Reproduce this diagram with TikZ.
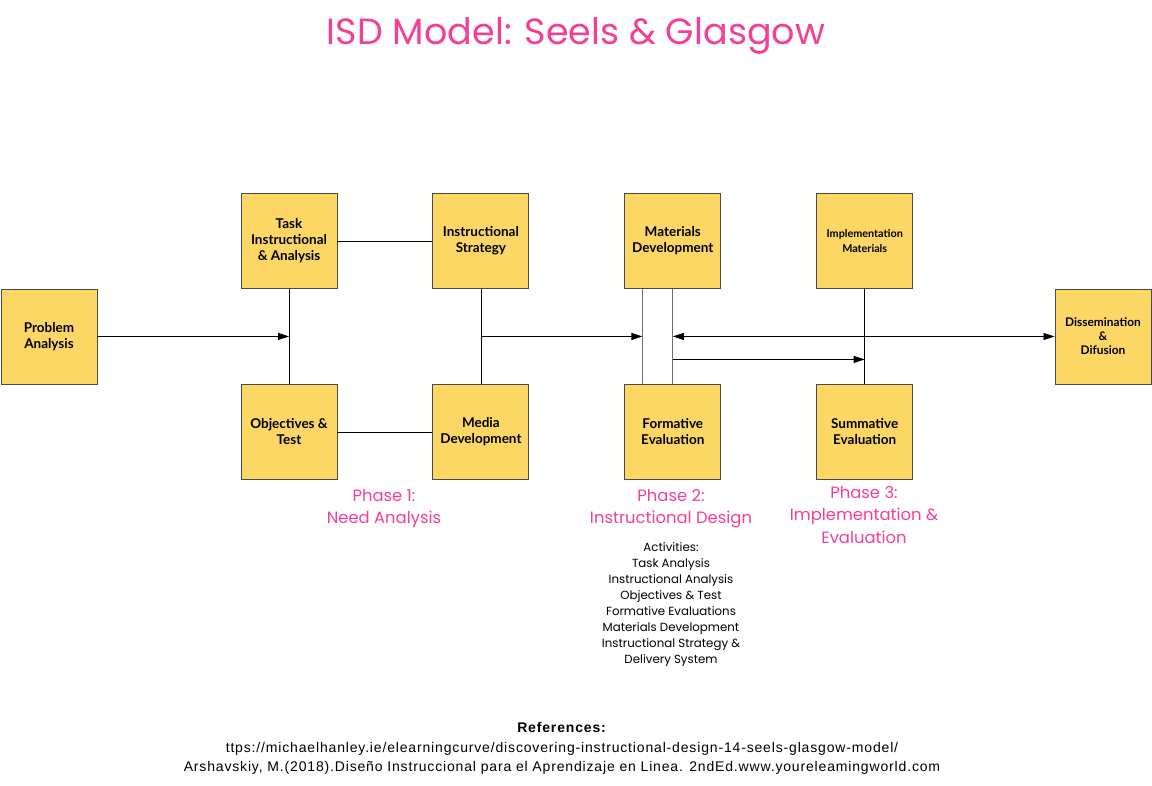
\documentclass[tikz,border=0pt]{standalone}
\usepackage{fontspec}
\usepackage{tikz}
\usetikzlibrary{arrows.meta,positioning,calc}
\setmainfont{Lato}
\newfontfamily\phasefont{Poppins}
\newfontfamily\reffont[LetterSpace=6]{Liberation Sans}
\definecolor{boxfill}{HTML}{FCD766}
\definecolor{boxline}{HTML}{4A4A4A}
\definecolor{hotpink}{HTML}{F43F97}
\definecolor{wiregray}{HTML}{6E6E6E}

\begin{document}
\begin{tikzpicture}[
  x=1pt,y=-1pt,
  node distance=95pt,
  isdbox/.style={draw=boxline,fill=boxfill,line width=0.9pt,minimum width=96pt,minimum height=95pt,
    align=center,font=\bfseries\fontsize{13.5}{16}\selectfont,inner sep=2pt},
  phase/.style={align=center,text=hotpink,font=\phasefont\fontsize{16.4}{22.5}\selectfont},
  link/.style={line width=0.8pt},
  arr/.style={-{Triangle[length=11pt,width=7pt]},line width=0.8pt}
]
\useasboundingbox (0,0) rectangle (1152,786);

% title
\node[text=hotpink,font=\phasefont\fontsize{36.5}{40}\selectfont] (title) at (576,36) {ISD Model: Seels \& Glasgow};

% boxes
\node[isdbox] (prob) at (49,336.5) {Problem\\Analysis};
\node[isdbox] (task) at (289,241) {Task\\Instructional\\\& Analysis};
\node[isdbox,right=of task] (strat) {Instructional\\Strategy};
\node[isdbox,right=95pt of strat] (matdev) {Materials\\Development};
\node[isdbox,right=95pt of matdev,font=\bfseries\fontsize{10.8}{15}\selectfont] (impl) {Implementation\\Materials};
\node[isdbox,below=of task] (objt) {Objectives \&\\Test};
\node[isdbox,below=of strat] (media) {Media\\Development};
\node[isdbox,below=of matdev] (form) {Formative\\Evaluation};
\node[isdbox,below=of impl] (summ) {Summative\\Evaluation};
\node[isdbox,font=\bfseries\fontsize{11.9}{14}\selectfont] (diss) at (1103,336.5) {Dissemination\\\&\\Difusion};

% junction points
\coordinate (j1) at ($(task.south)!.5!(objt.north)$);
\coordinate (j2) at ($(strat.south)!.5!(media.north)$);
\coordinate (mtop) at ([xshift=18pt]matdev.south west);
\coordinate (mbot) at ([xshift=18pt]form.north west);
\coordinate (j3) at ($(matdev.south)!.5!(form.north)$);
\coordinate (j4) at ($(j3)+(0,23)$);

% connectors
\draw[link] (task) -- (strat);
\draw[link] (objt) -- (media);
\draw[link] (task) -- (objt);
\draw[link] (strat) -- (media);
\draw[link] (impl) -- (summ);
\draw[link,wiregray] (mtop) -- (mbot);
\draw[link,wiregray] (matdev) -- (form);
\draw[arr] (prob) -- (j1);
\draw[arr] (j2) -- (mtop |- j2);
\draw[arr,{Triangle[length=11pt,width=7pt]}-{Triangle[length=11pt,width=7pt]}] (j3) -- (diss);
\draw[arr] (j4) -- (impl.south |- j4);

% phase labels
\node[phase] (ph1) at (384,508.5) {Phase 1:\\Need Analysis};
\node[phase] (ph2) at (671,508.5) {Phase 2:\\Instructional Design};
\node[phase] (ph3) at (864,515) {Phase 3:\\Implementation \&\\Evaluation};

\node[align=center,font=\phasefont\fontsize{11.8}{16}\selectfont] (acts) at (671,605)
  {Activities:\\Task Analysis\\Instructional Analysis\\Objectives \& Test\\Formative Evaluations\\
   Materials Development\\Instructional Strategy \&\\Delivery System};

% references
\node[align=center,font=\reffont\fontsize{14}{19.5}\selectfont] (refs) at (562,748.5)
  {\textbf{References:}\\ttps://michaelhanley.ie/elearningcurve/discovering-instructional-design-14-seels-glasgow-model/\\
   Arshavskiy, M.(2018).Diseño Instruccional para el Aprendizaje en Linea. 2ndEd.www.youreleamingworld.com};
\end{tikzpicture}
\end{document}
